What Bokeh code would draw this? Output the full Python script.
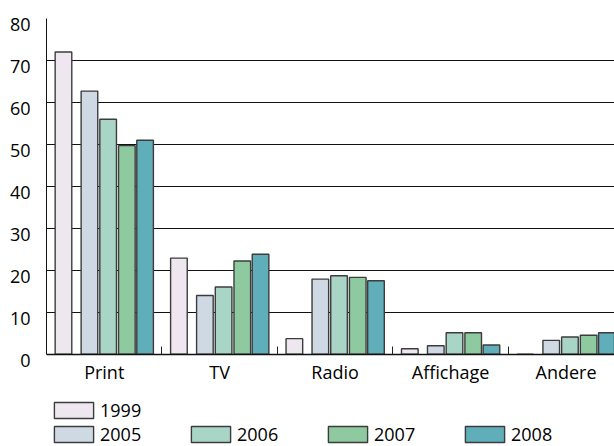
from bokeh.plotting import figure
from bokeh.models import Range1d, FixedTicker, ColumnDataSource, Legend, LegendItem, LinearAxis
from bokeh.embed import file_html
from bokeh.resources import INLINE

categories = ["Print", "TV", "Radio", "Affichage", "Andere"]
years = ["1999", "2005", "2006", "2007", "2008"]
v1999 = [72.0, 22.9, 3.7, 1.3, 0.0]
v2005 = [62.7, 14.0, 17.9, 2.0, 3.3]
v2006 = [56.0, 16.0, 18.7, 5.1, 4.1]
v2007 = [49.7, 22.2, 18.3, 5.1, 4.5]
v2008 = [51.0, 23.8, 17.5, 2.2, 5.1]
y_ticks = [0, 10, 20, 30, 40, 50, 60, 70, 80]
colors = ["#EFE7F0", "#CED9E3", "#A8D5C6", "#8EC9A0", "#61AEBB"]

series = [v1999, v2005, v2006, v2007, v2008]
offsets = [0.147, 0.372, 0.534, 0.696, 0.854]
bar_w = 0.144
FONT = "Open Sans"
FS = "18px"
LABEL_SHIFT = 1.4  # y tick labels sit slightly below their grid lines

p = figure(width=614, height=446, x_range=Range1d(0, 4.92), y_range=Range1d(-22, 80),
           output_backend="svg", toolbar_location=None,
           min_border_left=46, min_border_right=0, min_border_top=18, min_border_bottom=0)
p.outline_line_color = None
p.background_fill_color = "white"
p.border_fill_color = "white"

renderers = []
for yr, vals, off, col in zip(years, series, offsets, colors):
    src = ColumnDataSource(dict(x=[i + off for i in range(len(categories))], top=vals))
    r = p.vbar(x="x", top="top", width=bar_w, bottom=0, source=src,
               fill_color=col, line_color="#3c3c3c", line_width=1.4)
    renderers.append(r)

# x axis (sits at y = 0 inside the frame)
centers = [i + 0.5 for i in range(len(categories))]
p.xaxis.fixed_location = 0
p.xaxis.ticker = FixedTicker(ticks=centers, minor_ticks=[i for i in range(1, len(categories))])
p.xaxis.major_label_overrides = {c: name for c, name in zip(centers, categories)}
p.xaxis.major_tick_line_color = None
p.xaxis.minor_tick_in = 8
p.xaxis.minor_tick_out = 0
p.xaxis.minor_tick_line_color = "#222222"
p.xaxis.axis_line_color = "#111111"
p.xaxis.axis_line_width = 1.5
p.xaxis.major_label_standoff = 0
p.xaxis.major_label_text_font = FONT
p.xaxis.major_label_text_font_size = FS
p.xaxis.major_label_text_color = "black"
p.xgrid.grid_line_color = None

# y axis line (0..80) without labels; grid lines at the y ticks
p.yaxis.ticker = FixedTicker(ticks=[], minor_ticks=[])
p.yaxis.bounds = (y_ticks[0], y_ticks[-1])
p.yaxis.major_tick_line_color = None
p.yaxis.minor_tick_line_color = None
p.yaxis.axis_line_color = "#111111"
p.yaxis.axis_line_width = 1
p.yaxis.major_label_standoff = 0
p.ygrid.ticker = FixedTicker(ticks=y_ticks, minor_ticks=[])
p.ygrid.grid_line_color = "#111111"
p.ygrid.grid_line_width = 1

# y tick labels on a second axis, shifted slightly downward
p.extra_y_ranges = {"lab": Range1d(-22 + LABEL_SHIFT, 80 + LABEL_SHIFT)}
lab_axis = LinearAxis(y_range_name="lab", ticker=FixedTicker(ticks=y_ticks, minor_ticks=[]),
                      axis_line_color=None, major_tick_line_color=None, minor_tick_line_color=None,
                      major_label_standoff=10, major_label_text_font=FONT,
                      major_label_text_font_size=FS, major_label_text_color="black")
p.add_layout(lab_axis, "left")

def make_legend(items, loc, orient):
    return Legend(items=items, location=loc, orientation=orient,
                  padding=0, margin=0, border_line_alpha=0, background_fill_alpha=0,
                  glyph_width=49, glyph_height=20, label_standoff=2, spacing=0,
                  label_width=86, label_height=20,
                  label_text_font=FONT, label_text_font_size=FS,
                  label_text_color="black")

lg1 = make_legend([LegendItem(label=years[0], renderers=[renderers[0]])], (3, 24), "vertical")
lg2 = make_legend([LegendItem(label=y, renderers=[r]) for y, r in zip(years[1:], renderers[1:])],
                  (3, 0), "horizontal")
p.add_layout(lg1)
p.add_layout(lg2)

open("out.html", "w").write(file_html(p, INLINE))
